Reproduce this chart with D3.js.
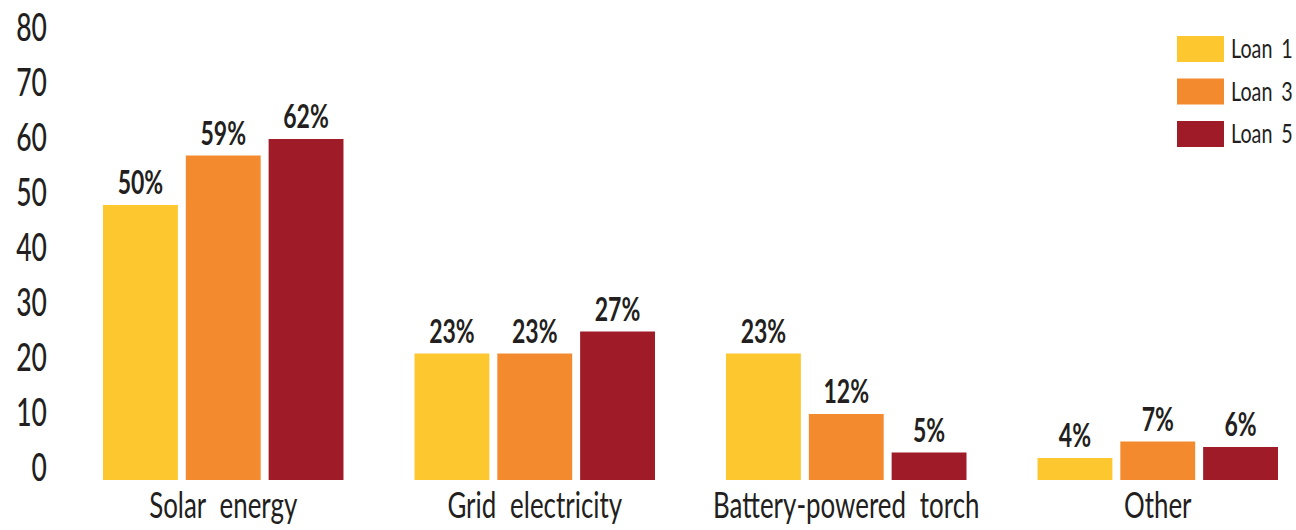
<!DOCTYPE html>
<html>
<head>
<meta charset="utf-8">
<script src="https://cdn.jsdelivr.net/npm/d3@7"></script>
<style>
  html, body { margin: 0; padding: 0; background: #fff; }
  svg { display: block; }
  text { font-family: Lato, "Open Sans", sans-serif; fill: #231f20; }
</style>
</head>
<body>
<svg id="chart" width="1296" height="530"></svg>
<script>
// Lighting source by loan cycle, share of clients (%)
const categories = ["Solar energy", "Grid electricity", "Battery-powered torch", "Other"];
const seriesNames = ["Loan 1", "Loan 3", "Loan 5"];
const loan1 = [50, 23, 23, 4];
const loan3 = [59, 23, 12, 7];
const loan5 = [62, 27, 5, 6];
const yTicks = [0, 10, 20, 30, 40, 50, 60, 70, 80];
const colors = ["#fdc72f", "#f48a2e", "#9e1b27"];

const seriesValues = [loan1, loan3, loan5];
const rows = categories.map((c, i) => ({
  category: c,
  values: seriesNames.map((s, j) => ({ series: s, value: seriesValues[j][i] }))
}));

const svg = d3.select("#chart");
const baseY = 480, topY = 40;

const x = d3.scaleBand().domain(categories).range([103, 1278])
  .paddingInner(0.228).paddingOuter(0);
const xs = d3.scaleBand().domain(seriesNames).range([0, x.bandwidth()])
  .paddingInner(0.096);
const y = d3.scaleLinear().domain([0, 80]).range([baseY, topY]);
const color = d3.scaleOrdinal().domain(seriesNames).range(colors);

// Y axis: numbers only, baseline sitting on each tick value
const yAxis = svg.append("g").attr("transform", "translate(47,0)")
  .call(d3.axisLeft(y).tickValues(yTicks).tickSize(0).tickPadding(0));
yAxis.select(".domain").remove();
yAxis.selectAll("text")
  .attr("x", 0).attr("dy", 0)
  .attr("text-anchor", "end")
  .attr("transform", "scale(0.68,1)")
  .style("font-size", "39px")
  .style("font-weight", "500")
  .style("font-family", "Lato, sans-serif")
  .style("fill", "#231f20");

// Category axis
const xAxis = svg.append("g").attr("transform", `translate(0,${baseY})`)
  .call(d3.axisBottom(x).tickSize(0).tickPadding(0));
xAxis.select(".domain").remove();
xAxis.selectAll("text")
  .attr("y", 38).attr("dy", 0)
  .attr("text-anchor", "middle")
  .attr("transform", "scale(0.72,1)")
  .style("font-size", "36px")
  .style("word-spacing", "10px")
  .style("font-family", "Lato, sans-serif")
  .style("fill", "#231f20");

// Bars and value labels
const groups = svg.append("g").selectAll("g.grp")
  .data(rows).join("g")
  .attr("class", "grp")
  .attr("transform", d => `translate(${x(d.category)},0)`);

groups.selectAll("rect")
  .data(d => d.values).join("rect")
  .attr("x", d => xs(d.series))
  .attr("y", d => y(d.value))
  .attr("width", xs.bandwidth())
  .attr("height", d => y(0) - y(d.value))
  .attr("fill", d => color(d.series));

groups.selectAll("g.lbl")
  .data(d => d.values).join("g")
  .attr("class", "lbl")
  .attr("transform", d => `translate(${xs(d.series) + xs.bandwidth() / 2},${y(d.value) - 11}) scale(0.72,1)`)
  .append("text")
  .attr("text-anchor", "middle")
  .style("font-size", "32px")
  .style("font-weight", "bold")
  .text(d => d.value + "%");

// Legend
const legend = svg.append("g").attr("transform", "translate(1177,36)");
const item = legend.selectAll("g").data(seriesNames).join("g")
  .attr("transform", (d, i) => `translate(0,${i * 42.5})`);
item.append("rect")
  .attr("width", 47).attr("height", 26)
  .attr("fill", d => color(d));
item.append("g")
  .attr("transform", "translate(54,22) scale(0.76,1)")
  .append("text")
  .style("font-size", "26px")
  .style("word-spacing", "5px")
  .text(d => d);
</script>
</body>
</html>
